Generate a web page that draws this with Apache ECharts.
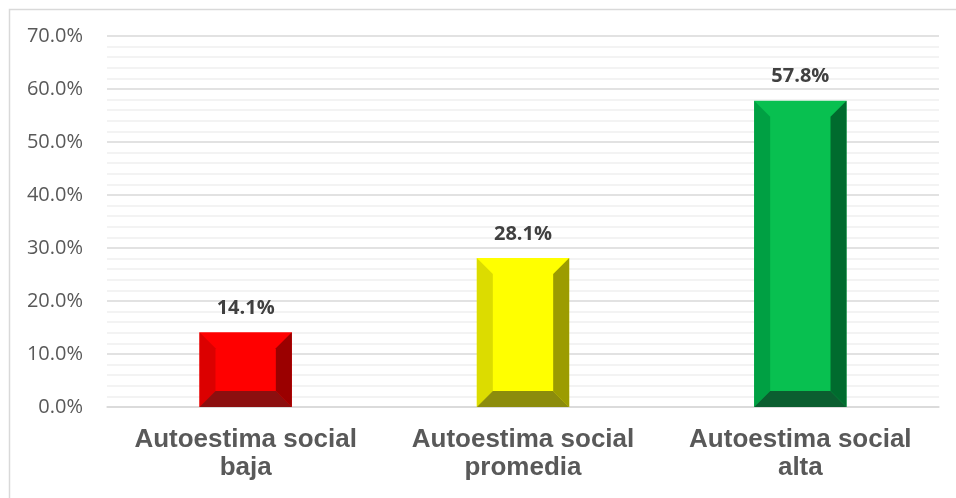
<!DOCTYPE html>
<html>
<head>
<meta charset="utf-8">
<script src="https://cdn.jsdelivr.net/npm/echarts@6/dist/echarts.min.js"></script>
<style>
html,body{margin:0;padding:0;background:#fff;}
#chart{width:956px;height:498px;}
</style>
</head>
<body>
<div id="chart"></div>
<script>
const categories = ['Autoestima social\nbaja', 'Autoestima social\npromedia', 'Autoestima social\nalta'];
const values = [0.141, 0.281, 0.578];
const valueLabels = ['14.1%', '28.1%', '57.8%'];

const palettes = [
  {face:'#ff0000', left:'#dc0000', right:'#9b0000', bottom:'#8c0f0f'},
  {face:'#ffff00', left:'#dcdc00', right:'#9c9c00', bottom:'#8c8c0c'},
  {face:'#08c050', left:'#00a043', right:'#006b2e', bottom:'#0b5e30'}
];

const chart = echarts.init(document.getElementById('chart'), null, {renderer:'canvas'});

function renderItem(params, api) {
  const idx = api.value(0);
  const v = api.value(1);
  const top = api.coord([idx, v]);
  const base = api.coord([idx, 0]);
  const bw = api.size([1, 0])[0] * 0.333;
  const x0 = top[0] - bw / 2, x1 = top[0] + bw / 2;
  const y0 = top[1], y1 = base[1];
  const h = y1 - y0;
  const b = Math.min(16, h / 2, bw / 2);
  const p = palettes[params.dataIndex];
  return {
    type: 'group',
    children: [
      {type:'rect', shape:{x:x0, y:y0, width:bw, height:h}, style:{fill:p.face}},
      {type:'polygon', shape:{points:[[x0,y0],[x0+b,y0+b],[x0+b,y1-b],[x0,y1]]}, style:{fill:p.left}},
      {type:'polygon', shape:{points:[[x1,y0],[x1-b,y0+b],[x1-b,y1-b],[x1,y1]]}, style:{fill:p.right}},
      {type:'polygon', shape:{points:[[x0,y1],[x0+b,y1-b],[x1-b,y1-b],[x1,y1]]}, style:{fill:p.bottom}},
      {type:'text', x: top[0], y: y0 - 24, style:{
        text: valueLabels[params.dataIndex], fill:'#404040',
        font:'bold 20px "Open Sans", sans-serif', align:'center', verticalAlign:'middle'}}
    ]
  };
}

chart.setOption({
  animation: false,
  backgroundColor: '#ffffff',
  graphic: [{
    type:'rect', left:7, top:7, shape:{width:960, height:520},
    style:{fill:'none', stroke:'#d9d9d9', lineWidth:1.5}, silent:true, z:-1
  }],
  grid: {left:107, right:17, top:36, bottom:91},
  xAxis: {
    type:'category', data: categories,
    axisLine:{show:true, lineStyle:{color:'#d9d9d9', width:1.5}},
    axisTick:{show:false},
    axisLabel:{color:'#595959', fontSize:26, fontWeight:'bold', fontFamily:'"Liberation Sans", Arial, sans-serif', lineHeight:28, margin:19, interval:0},
    splitLine:{show:false}
  },
  yAxis: {
    type:'value', min:0, max:0.7, interval:0.1,
    axisLine:{show:false}, axisTick:{show:false},
    axisLabel:{color:'#595959', fontSize:20, fontFamily:'"Open Sans", sans-serif', margin:24,
      formatter: v => (v*100).toFixed(1) + '%'},
    splitLine:{show:true, lineStyle:{color:'#d9d9d9', width:1.5}},
    minorTick:{show:false, splitNumber:5},
    minorSplitLine:{show:true, lineStyle:{color:'#f0f0f0', width:1.5}}
  },
  series: [{
    type:'custom', renderItem: renderItem,
    data: values.map((v, i) => [i, v]),
    encode:{x:0, y:1}
  }]
});
</script>
</body>
</html>
